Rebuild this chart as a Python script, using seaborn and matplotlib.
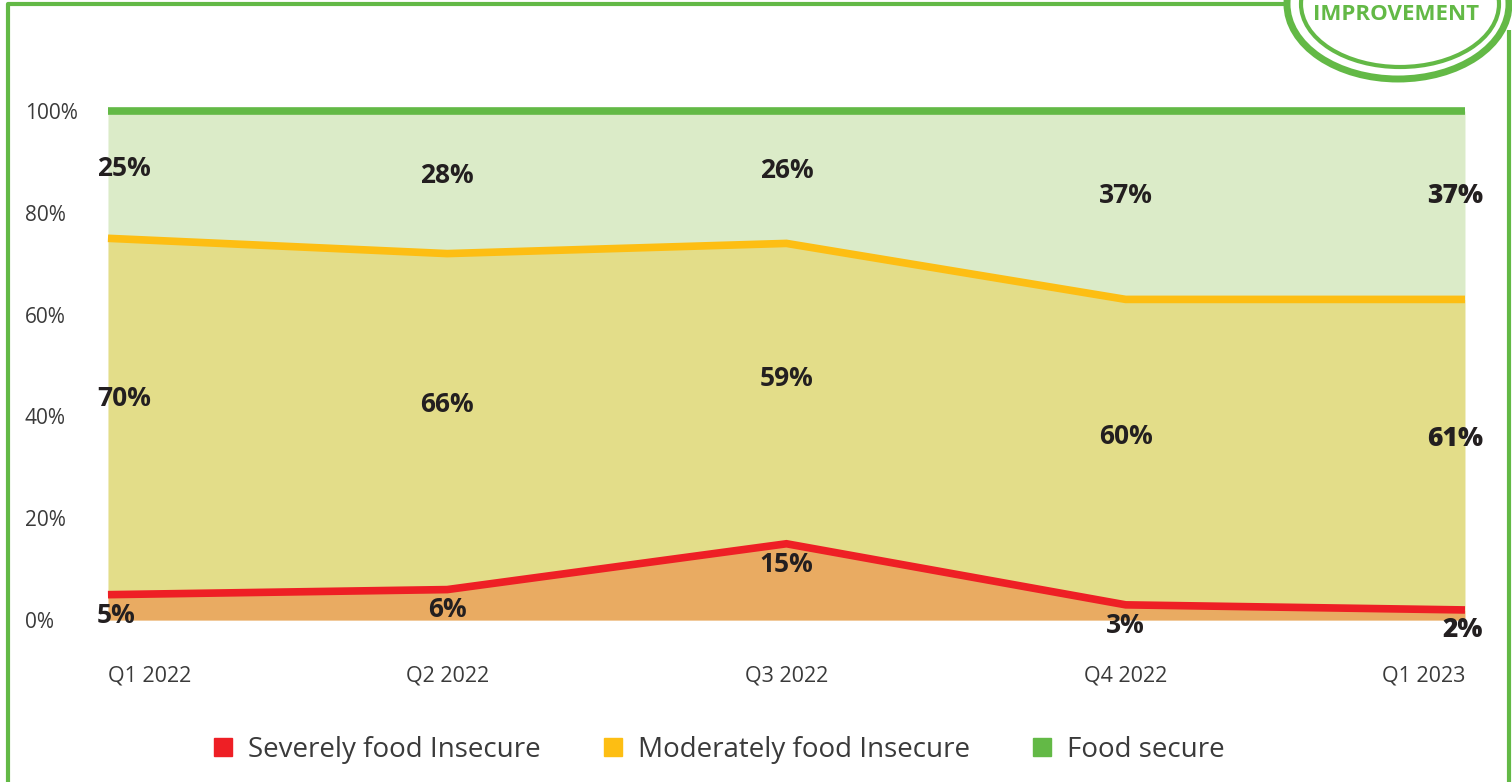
import numpy as np
import pandas as pd
import matplotlib.pyplot as plt
import seaborn as sns
from matplotlib.patches import Ellipse
from matplotlib.lines import Line2D

quarters = ["Q1 2022", "Q2 2022", "Q3 2022", "Q4 2022", "Q1 2023"]
severe = [5, 6, 15, 3, 2]
moderate = [70, 66, 59, 60, 61]
secure = [25, 28, 26, 37, 37]
series_names = ["Severely food Insecure", "Moderately food Insecure", "Food secure"]
y_ticks = [0, 20, 40, 60, 80, 100]

line_colors = ["#EE1F25", "#FDBE13", "#63B946"]
fill_colors = ["#E9AB62", "#E3DD89", "#DBEBC8"]
label_color = "#231F20"
tick_color = "#3A3A3A"

sns.set_style("white")
plt.rcParams['font.family'] = ['Open Sans', 'DejaVu Sans']

df = pd.DataFrame({"quarter": quarters, "severe": severe, "moderate": moderate, "secure": secure})
df["x"] = np.arange(len(df))
df["top_severe"] = df["severe"]
df["top_moderate"] = df["severe"] + df["moderate"]
df["top_secure"] = df["top_moderate"] + df["secure"]

fig = plt.figure(figsize=(15.12, 7.82), dpi=100)
ax = fig.add_axes([0.0714, 0.207, 0.8975, 0.651])

# stacked areas
bottoms = [np.zeros(len(df)), df["top_severe"].values, df["top_moderate"].values]
tops = [df["top_severe"].values, df["top_moderate"].values, df["top_secure"].values]
for b, t, c in zip(bottoms, tops, fill_colors):
    ax.fill_between(df["x"], b, t, color=c, linewidth=0)

# boundary lines
for col, c in zip(["top_severe", "top_moderate", "top_secure"], line_colors):
    sns.lineplot(data=df, x="x", y=col, ax=ax, color=c, linewidth=5.5,
                 solid_capstyle="butt", solid_joinstyle="miter", clip_on=False)

# data labels
n = len(df)
for i, row in df.iterrows():
    if i == 0:
        ha, dx, weight = "left", -8, "bold"
    elif i == n - 1:
        ha, dx, weight = "right", 13, "heavy"
    else:
        ha, dx, weight = "center", 0, "bold"
    ys = [row["severe"] - 4.0,
          row["top_severe"] + 0.55 * row["moderate"],
          row["top_moderate"] + 0.55 * row["secure"]]
    vals = [row["severe"], row["moderate"], row["secure"]]
    for y, v in zip(ys, vals):
        ax.annotate(f"{v}%", (row["x"], y), xytext=(dx, 0), textcoords="offset points",
                    ha=ha, va="center", fontsize=19, fontweight=weight, color=label_color,
                    annotation_clip=False)

ax.set_xlim(0, n - 1)
ax.set_ylim(0, 100)
ax.set_xticks(df["x"])
ax.set_xticklabels(quarters)
ax.set_yticks(y_ticks)
ax.set_yticklabels([f"{t}%" for t in y_ticks])
ax.tick_params(axis="x", length=0, pad=33, labelsize=15.5, labelcolor=tick_color)
ax.tick_params(axis="y", length=0, pad=60, labelsize=15, labelcolor=tick_color)
for lbl in ax.get_yticklabels():
    lbl.set_ha("left")
xl = ax.get_xticklabels()
xl[0].set_ha("left")
xl[-1].set_ha("right")
ax.set_xlabel("")
ax.set_ylabel("")
for s in ax.spines.values():
    s.set_visible(False)
ax.set_facecolor("none")

handles = [Line2D([], [], marker="s", linestyle="", markersize=12.5, color=c) for c in line_colors]
fig.legend(handles, series_names, loc="center", bbox_to_anchor=(0.474, 0.041), ncol=3,
           frameon=False, fontsize=20, columnspacing=2.1, handlelength=1.0, handletextpad=0.4,
           labelcolor=tick_color)

# frame and badge
deco = fig.add_axes([0, 0, 1, 1], zorder=-1)
deco.set_xlim(0, 1512)
deco.set_ylim(782, 0)
deco.axis("off")
green = "#63B946"
deco.plot([8, 8, 1290], [782, 4, 4], color=green, linewidth=3, solid_capstyle="butt")
deco.plot([1509, 1509], [30, 782], color=green, linewidth=3, solid_capstyle="butt")
deco.add_patch(Ellipse((1398, 4), 222, 150, fill=False, edgecolor=green, linewidth=5))
deco.add_patch(Ellipse((1400, 4), 198, 126, fill=False, edgecolor=green, linewidth=3))
fig.text(1396 / 1512, 1 - 15 / 782, "IMPROVEMENT", ha="center", va="center",
         fontsize=16, fontweight="bold", color=green)

fig.savefig("out.png", dpi=100)
